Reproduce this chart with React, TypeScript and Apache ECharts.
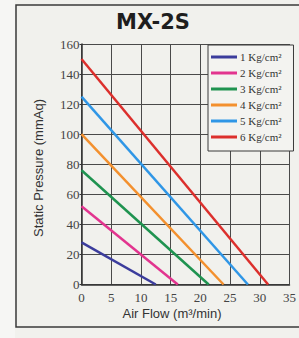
import React, { useEffect, useRef } from "react";
import * as echarts from "echarts";

const seriesNames = ["1 Kg/cm²", "2 Kg/cm²", "3 Kg/cm²", "4 Kg/cm²", "5 Kg/cm²", "6 Kg/cm²"];
const shutoffPressure = [28, 52, 76, 100, 125, 150];
const maxFlow = [12.5, 16.2, 21.4, 23.9, 28, 31.4];
const colors = ["#3b3c9c", "#e2348f", "#1f9350", "#f3902e", "#2f96e6", "#dc2f2c"];
const xTicks = [0, 5, 10, 15, 20, 25, 30, 35];
const yTicks = [0, 20, 40, 60, 80, 100, 120, 140, 160];

export default function App() {
  const ref = useRef<HTMLDivElement>(null);
  useEffect(() => {
    if (!ref.current) return;
    const chart = echarts.init(ref.current, null, { renderer: "svg" });
    const serif = "Liberation Serif";
    chart.setOption({
      animation: false,
      backgroundColor: "#f1f1ed",
      graphic: [
        { type: "rect", z: -10, shape: { x: 0, y: 0, width: 15, height: 338 }, style: { fill: "#f6f6f4" } },
        { type: "rect", z: -5, shape: { x: 16, y: 5, width: 290, height: 322 }, style: { fill: "none", stroke: "#3a3a3a", lineWidth: 1.5 } },
        { type: "text", x: 153, y: 22, style: { text: "MX-2S", font: "bold 21px 'DejaVu Sans'", fill: "#1e1e1e", align: "center", verticalAlign: "middle" } },
        { type: "text", x: 38, y: 168, rotation: Math.PI / 2, style: { text: "Static Pressure (mmAq)", font: "13px 'Liberation Sans'", fill: "#333", align: "center", verticalAlign: "middle" } },
        { type: "text", x: 172, y: 313, style: { text: "Air Flow (m³/min)", font: "13px 'Liberation Sans'", fill: "#333", align: "center", verticalAlign: "middle" } },
      ],
      grid: { left: 81.5, top: 44, width: 212.5, height: 240.5 },
      xAxis: {
        type: "value", min: xTicks[0], max: xTicks[xTicks.length - 1], interval: 5,
        axisLine: { show: true, lineStyle: { color: "#333", width: 1.5 } },
        axisTick: { show: false },
        splitLine: { show: true, lineStyle: { color: "#4a4a4a", width: 1 } },
        axisLabel: { fontFamily: serif, fontSize: 13, color: "#444", margin: 6 },
      },
      yAxis: {
        type: "value", min: yTicks[0], max: yTicks[yTicks.length - 1], interval: 20,
        axisLine: { show: true, lineStyle: { color: "#333", width: 1.5 } },
        axisTick: { show: true, length: 2, lineStyle: { color: "#333" } },
        splitLine: { show: true, lineStyle: { color: "#4a4a4a", width: 1 } },
        axisLabel: { fontFamily: serif, fontSize: 13, color: "#444", margin: 2 },
      },
      legend: {
        orient: "vertical", left: 208, top: 45,
        backgroundColor: "#f3f3f0", borderColor: "#3a3a3a", borderWidth: 1,
        padding: [6.5, 12, 8.5, 3], itemGap: 5, itemWidth: 26, itemHeight: 3,
        icon: "rect",
        textStyle: { fontFamily: serif, fontSize: 11, color: "#333", padding: [0, 0, 0, -2] },
        data: seriesNames,
      },
      series: seriesNames.map((name, i) => ({
        name, type: "line", showSymbol: false, symbol: "none",
        lineStyle: { color: colors[i], width: 2.5 }, itemStyle: { color: colors[i] },
        data: [[0, shutoffPressure[i]], [maxFlow[i], 0]],
      })),
    });
    return () => chart.dispose();
  }, []);
  return <div ref={ref} style={{ position: "fixed", left: 0, top: 0, width: 299, height: 338 }} />;
}
